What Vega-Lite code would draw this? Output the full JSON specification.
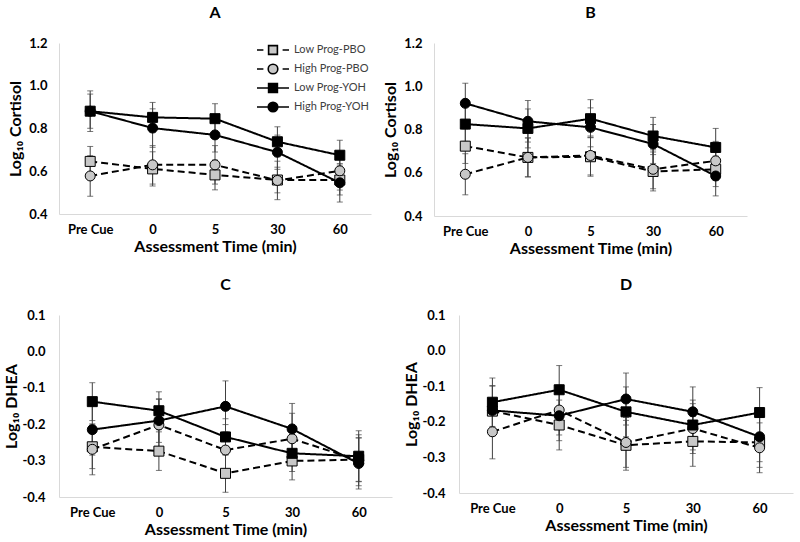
{
  "$schema": "https://vega.github.io/schema/vega-lite/v6.json",
  "background": "white",
  "padding": {"left": 3, "top": 5, "right": 5, "bottom": 5},
  "config": {
    "view": {"stroke": null},
    "font": "Lato",
    "axis": {
      "domainColor": "#d9d9d9", "domainWidth": 1, "ticks": false, "grid": false,
      "labelFont": "Lato", "labelFontWeight": "bold", "labelFontSize": 13, "labelColor": "#000",
      "titleFont": "Lato", "titleFontSize": 16, "titleFontWeight": "bold", "titleColor": "#000"
    },
    "axisX": {"labelAngle": 0, "labelPadding": 9, "titlePadding": 2},
    "axisY": {"labelPadding": 12, "titlePadding": 5},
    "title": {"font": "Lato", "fontSize": 16, "fontWeight": "bold", "color": "#000", "anchor": "middle", "frame": "group", "offset": 16}
  },
  "data": {"values": [
    {"panel":"A","group":"Low Prog-PBO","time":"Pre Cue","mean":0.646,"err":0.07},
    {"panel":"A","group":"Low Prog-PBO","time":"0","mean":0.611,"err":0.08},
    {"panel":"A","group":"Low Prog-PBO","time":"5","mean":0.583,"err":0.07},
    {"panel":"A","group":"Low Prog-PBO","time":"30","mean":0.559,"err":0.06},
    {"panel":"A","group":"Low Prog-PBO","time":"60","mean":0.559,"err":0.07},
    {"panel":"A","group":"High Prog-PBO","time":"Pre Cue","mean":0.578,"err":0.095},
    {"panel":"A","group":"High Prog-PBO","time":"0","mean":0.630,"err":0.09},
    {"panel":"A","group":"High Prog-PBO","time":"5","mean":0.630,"err":0.09},
    {"panel":"A","group":"High Prog-PBO","time":"30","mean":0.557,"err":0.09},
    {"panel":"A","group":"High Prog-PBO","time":"60","mean":0.602,"err":0.09},
    {"panel":"A","group":"Low Prog-YOH","time":"Pre Cue","mean":0.881,"err":0.095},
    {"panel":"A","group":"Low Prog-YOH","time":"0","mean":0.852,"err":0.07},
    {"panel":"A","group":"Low Prog-YOH","time":"5","mean":0.846,"err":0.07},
    {"panel":"A","group":"Low Prog-YOH","time":"30","mean":0.738,"err":0.07},
    {"panel":"A","group":"Low Prog-YOH","time":"60","mean":0.675,"err":0.07},
    {"panel":"A","group":"High Prog-YOH","time":"Pre Cue","mean":0.881,"err":0.08},
    {"panel":"A","group":"High Prog-YOH","time":"0","mean":0.802,"err":0.09},
    {"panel":"A","group":"High Prog-YOH","time":"5","mean":0.770,"err":0.08},
    {"panel":"A","group":"High Prog-YOH","time":"30","mean":0.689,"err":0.08},
    {"panel":"A","group":"High Prog-YOH","time":"60","mean":0.546,"err":0.09},

    {"panel":"B","group":"Low Prog-PBO","time":"Pre Cue","mean":0.723,"err":0.08},
    {"panel":"B","group":"Low Prog-PBO","time":"0","mean":0.671,"err":0.09},
    {"panel":"B","group":"Low Prog-PBO","time":"5","mean":0.674,"err":0.09},
    {"panel":"B","group":"Low Prog-PBO","time":"30","mean":0.606,"err":0.09},
    {"panel":"B","group":"Low Prog-PBO","time":"60","mean":0.616,"err":0.08},
    {"panel":"B","group":"High Prog-PBO","time":"Pre Cue","mean":0.593,"err":0.095},
    {"panel":"B","group":"High Prog-PBO","time":"0","mean":0.671,"err":0.09},
    {"panel":"B","group":"High Prog-PBO","time":"5","mean":0.680,"err":0.09},
    {"panel":"B","group":"High Prog-PBO","time":"30","mean":0.616,"err":0.09},
    {"panel":"B","group":"High Prog-PBO","time":"60","mean":0.655,"err":0.09},
    {"panel":"B","group":"Low Prog-YOH","time":"Pre Cue","mean":0.825,"err":0.08},
    {"panel":"B","group":"Low Prog-YOH","time":"0","mean":0.805,"err":0.09},
    {"panel":"B","group":"Low Prog-YOH","time":"5","mean":0.850,"err":0.088},
    {"panel":"B","group":"Low Prog-YOH","time":"30","mean":0.770,"err":0.086},
    {"panel":"B","group":"Low Prog-YOH","time":"60","mean":0.717,"err":0.088},
    {"panel":"B","group":"High Prog-YOH","time":"Pre Cue","mean":0.921,"err":0.093},
    {"panel":"B","group":"High Prog-YOH","time":"0","mean":0.838,"err":0.096},
    {"panel":"B","group":"High Prog-YOH","time":"5","mean":0.810,"err":0.09},
    {"panel":"B","group":"High Prog-YOH","time":"30","mean":0.733,"err":0.09},
    {"panel":"B","group":"High Prog-YOH","time":"60","mean":0.585,"err":0.092},

    {"panel":"C","group":"Low Prog-PBO","time":"Pre Cue","mean":-0.262,"err":0.06},
    {"panel":"C","group":"Low Prog-PBO","time":"0","mean":-0.274,"err":0.053},
    {"panel":"C","group":"Low Prog-PBO","time":"5","mean":-0.335,"err":0.052},
    {"panel":"C","group":"Low Prog-PBO","time":"30","mean":-0.301,"err":0.052},
    {"panel":"C","group":"Low Prog-PBO","time":"60","mean":-0.297,"err":0.06},
    {"panel":"C","group":"High Prog-PBO","time":"Pre Cue","mean":-0.269,"err":0.07},
    {"panel":"C","group":"High Prog-PBO","time":"0","mean":-0.202,"err":0.07},
    {"panel":"C","group":"High Prog-PBO","time":"5","mean":-0.271,"err":0.07},
    {"panel":"C","group":"High Prog-PBO","time":"30","mean":-0.240,"err":0.07},
    {"panel":"C","group":"High Prog-PBO","time":"60","mean":-0.299,"err":0.07},
    {"panel":"C","group":"Low Prog-YOH","time":"Pre Cue","mean":-0.138,"err":0.052},
    {"panel":"C","group":"Low Prog-YOH","time":"0","mean":-0.163,"err":0.052},
    {"panel":"C","group":"Low Prog-YOH","time":"5","mean":-0.235,"err":0.05},
    {"panel":"C","group":"Low Prog-YOH","time":"30","mean":-0.280,"err":0.05},
    {"panel":"C","group":"Low Prog-YOH","time":"60","mean":-0.288,"err":0.07},
    {"panel":"C","group":"High Prog-YOH","time":"Pre Cue","mean":-0.215,"err":0.07},
    {"panel":"C","group":"High Prog-YOH","time":"0","mean":-0.190,"err":0.06},
    {"panel":"C","group":"High Prog-YOH","time":"5","mean":-0.151,"err":0.07},
    {"panel":"C","group":"High Prog-YOH","time":"30","mean":-0.213,"err":0.07},
    {"panel":"C","group":"High Prog-YOH","time":"60","mean":-0.308,"err":0.07},

    {"panel":"D","group":"Low Prog-PBO","time":"Pre Cue","mean":-0.170,"err":0.07},
    {"panel":"D","group":"Low Prog-PBO","time":"0","mean":-0.209,"err":0.07},
    {"panel":"D","group":"Low Prog-PBO","time":"5","mean":-0.266,"err":0.07},
    {"panel":"D","group":"Low Prog-PBO","time":"30","mean":-0.255,"err":0.07},
    {"panel":"D","group":"Low Prog-PBO","time":"60","mean":-0.258,"err":0.07},
    {"panel":"D","group":"High Prog-PBO","time":"Pre Cue","mean":-0.228,"err":0.076},
    {"panel":"D","group":"High Prog-PBO","time":"0","mean":-0.167,"err":0.07},
    {"panel":"D","group":"High Prog-PBO","time":"5","mean":-0.258,"err":0.07},
    {"panel":"D","group":"High Prog-PBO","time":"30","mean":-0.219,"err":0.07},
    {"panel":"D","group":"High Prog-PBO","time":"60","mean":-0.273,"err":0.07},
    {"panel":"D","group":"Low Prog-YOH","time":"Pre Cue","mean":-0.145,"err":0.068},
    {"panel":"D","group":"Low Prog-YOH","time":"0","mean":-0.110,"err":0.068},
    {"panel":"D","group":"Low Prog-YOH","time":"5","mean":-0.172,"err":0.07},
    {"panel":"D","group":"Low Prog-YOH","time":"30","mean":-0.209,"err":0.07},
    {"panel":"D","group":"Low Prog-YOH","time":"60","mean":-0.174,"err":0.07},
    {"panel":"D","group":"High Prog-YOH","time":"Pre Cue","mean":-0.168,"err":0.07},
    {"panel":"D","group":"High Prog-YOH","time":"0","mean":-0.183,"err":0.07},
    {"panel":"D","group":"High Prog-YOH","time":"5","mean":-0.136,"err":0.073},
    {"panel":"D","group":"High Prog-YOH","time":"30","mean":-0.172,"err":0.07},
    {"panel":"D","group":"High Prog-YOH","time":"60","mean":-0.242,"err":0.07}
  ]},
  "vconcat": [
    {
      "hconcat": [
        {
          "width": 312, "height": 171,
          "title": "A",
          "transform": [{"filter": "datum.panel == 'A'"}],
          "encoding": {
            "x": {"field": "time", "type": "ordinal", "sort": ["Pre Cue","0","5","30","60"], "scale": {"type": "point", "padding": 0.5}, "title": "Assessment Time (min)"},
            "y": {"field": "mean", "type": "quantitative", "scale": {"domain": [0.4, 1.2], "nice": false}, "title": "Log₁₀ Cortisol",
                  "axis": {"values": [0.4, 0.6, 0.8, 1.0, 1.2], "labelExpr": "replace(format(datum.value, '.1f'), '−', '-')"}}
          },
          "resolve": {"scale": {"shape": "independent", "fill": "independent"}},
          "layer": [
            {"mark": {"type": "errorbar", "color": "#404040", "ticks": {"size": 6, "color": "#404040"}, "rule": {"strokeWidth": 1}},
             "encoding": {"yError": {"field": "err"}, "detail": {"field": "group"}}},
            {"mark": {"type": "line", "color": "black", "strokeWidth": 2},
             "encoding": {"detail": {"field": "group"}, "strokeDash": {"field": "group", "type": "nominal", "scale": {"domain": ["Low Prog-PBO","High Prog-PBO","Low Prog-YOH","High Prog-YOH"], "range": [[7,4],[7,4],[1,0],[1,0]]}, "legend": null}}},
            {"mark": {"type": "point", "filled": true, "size": 100, "stroke": "black", "strokeWidth": 1, "opacity": 1},
             "encoding": {
               "shape": {"field": "group", "type": "nominal", "scale": {"domain": ["Low Prog-PBO","High Prog-PBO","Low Prog-YOH","High Prog-YOH"], "range": ["square","circle","square","circle"]}, "legend": null},
               "fill": {"field": "group", "type": "nominal", "scale": {"domain": ["Low Prog-PBO","High Prog-PBO","Low Prog-YOH","High Prog-YOH"], "range": ["#c8c8c8","#c8c8c8","#000000","#000000"]}, "legend": null}}},
            {"transform": [{"filter": "false"}],
             "mark": {"type": "point", "filled": true, "size": 256, "stroke": "black", "strokeWidth": 1.6, "opacity": 1},
             "encoding": {
               "shape": {"field": "group", "type": "nominal",
                 "scale": {"domain": ["Low Prog-PBO","High Prog-PBO","Low Prog-YOH","High Prog-YOH"],
                   "range": [
                     "M-2,0H-1.2M-0.55,-0.55H0.55V0.55H-0.55ZM1.2,0H2",
                     "M-2,0H-1.2M-0.6,0A0.6,0.6,0,1,0,0.6,0A0.6,0.6,0,1,0,-0.6,0ZM1.2,0H2",
                     "M-2,0H-0.55M-0.55,-0.55H0.55V0.55H-0.55ZM0.55,0H2",
                     "M-2,0H-0.6M-0.6,0A0.6,0.6,0,1,0,0.6,0A0.6,0.6,0,1,0,-0.6,0ZM0.6,0H2"]},
                 "legend": {"title": null, "orient": "none", "legendX": 205, "legendY": -2, "symbolSize": 256, "symbolOpacity": 1, "symbolStrokeWidth": 1.6, "labelOffset": 12, "labelFont": "Lato", "labelFontSize": 11, "labelColor": "#404040", "rowPadding": 2,
                   "encode": {"symbols": {"update": {"stroke": {"value": "black"}, "strokeWidth": {"value": 1.6}}}}}},
               "fill": {"field": "group", "type": "nominal",
                 "scale": {"domain": ["Low Prog-PBO","High Prog-PBO","Low Prog-YOH","High Prog-YOH"], "range": ["#c8c8c8","#c8c8c8","#000000","#000000"]},
                 "legend": {"title": null, "orient": "none", "legendX": 205, "legendY": -2, "symbolSize": 256, "symbolOpacity": 1, "symbolStrokeWidth": 1.6, "labelOffset": 12, "labelFont": "Lato", "labelFontSize": 11, "labelColor": "#404040", "rowPadding": 2,
                   "encode": {"symbols": {"update": {"stroke": {"value": "black"}, "strokeWidth": {"value": 1.6}}}}}}}}
          ]
        },
        {
          "width": 313, "height": 173,
          "title": "B",
          "transform": [{"filter": "datum.panel == 'B'"}],
          "encoding": {
            "x": {"field": "time", "type": "ordinal", "sort": ["Pre Cue","0","5","30","60"], "scale": {"type": "point", "padding": 0.5}, "title": "Assessment Time (min)"},
            "y": {"field": "mean", "type": "quantitative", "scale": {"domain": [0.4, 1.2], "nice": false}, "title": "Log₁₀ Cortisol",
                  "axis": {"values": [0.4, 0.6, 0.8, 1.0, 1.2], "labelExpr": "replace(format(datum.value, '.1f'), '−', '-')"}}
          },
          "layer": [
            {"mark": {"type": "errorbar", "color": "#404040", "ticks": {"size": 6, "color": "#404040"}, "rule": {"strokeWidth": 1}},
             "encoding": {"yError": {"field": "err"}, "detail": {"field": "group"}}},
            {"mark": {"type": "line", "color": "black", "strokeWidth": 2},
             "encoding": {"detail": {"field": "group"}, "strokeDash": {"field": "group", "type": "nominal", "scale": {"domain": ["Low Prog-PBO","High Prog-PBO","Low Prog-YOH","High Prog-YOH"], "range": [[7,4],[7,4],[1,0],[1,0]]}, "legend": null}}},
            {"mark": {"type": "point", "filled": true, "size": 100, "stroke": "black", "strokeWidth": 1, "opacity": 1},
             "encoding": {
               "shape": {"field": "group", "type": "nominal", "scale": {"domain": ["Low Prog-PBO","High Prog-PBO","Low Prog-YOH","High Prog-YOH"], "range": ["square","circle","square","circle"]}, "legend": null},
               "fill": {"field": "group", "type": "nominal", "scale": {"domain": ["Low Prog-PBO","High Prog-PBO","Low Prog-YOH","High Prog-YOH"], "range": ["#c8c8c8","#c8c8c8","#000000","#000000"]}, "legend": null}}}
          ]
        }
      ],
      "spacing": 11
    },
    {
      "hconcat": [
        {
          "width": 333, "height": 182,
          "title": "C",
          "transform": [{"filter": "datum.panel == 'C'"}],
          "encoding": {
            "x": {"field": "time", "type": "ordinal", "sort": ["Pre Cue","0","5","30","60"], "scale": {"type": "point", "padding": 0.5}, "title": "Assessment Time (min)"},
            "y": {"field": "mean", "type": "quantitative", "scale": {"domain": [-0.4, 0.1], "nice": false}, "title": "Log₁₀ DHEA",
                  "axis": {"values": [-0.4, -0.3, -0.2, -0.1, 0.0, 0.1], "labelExpr": "replace(format(datum.value, '.1f'), '−', '-')", "titlePadding": 2, "labelPadding": 14}}
          },
          "layer": [
            {"mark": {"type": "errorbar", "color": "#404040", "ticks": {"size": 6, "color": "#404040"}, "rule": {"strokeWidth": 1}},
             "encoding": {"yError": {"field": "err"}, "detail": {"field": "group"}}},
            {"mark": {"type": "line", "color": "black", "strokeWidth": 2},
             "encoding": {"detail": {"field": "group"}, "strokeDash": {"field": "group", "type": "nominal", "scale": {"domain": ["Low Prog-PBO","High Prog-PBO","Low Prog-YOH","High Prog-YOH"], "range": [[7,4],[7,4],[1,0],[1,0]]}, "legend": null}}},
            {"mark": {"type": "point", "filled": true, "size": 100, "stroke": "black", "strokeWidth": 1, "opacity": 1},
             "encoding": {
               "shape": {"field": "group", "type": "nominal", "scale": {"domain": ["Low Prog-PBO","High Prog-PBO","Low Prog-YOH","High Prog-YOH"], "range": ["square","circle","square","circle"]}, "legend": null},
               "fill": {"field": "group", "type": "nominal", "scale": {"domain": ["Low Prog-PBO","High Prog-PBO","Low Prog-YOH","High Prog-YOH"], "range": ["#c8c8c8","#c8c8c8","#000000","#000000"]}, "legend": null}}}
          ]
        },
        {
          "width": 334, "height": 178,
          "title": "D",
          "transform": [{"filter": "datum.panel == 'D'"}],
          "encoding": {
            "x": {"field": "time", "type": "ordinal", "sort": ["Pre Cue","0","5","30","60"], "scale": {"type": "point", "padding": 0.5}, "title": "Assessment Time (min)"},
            "y": {"field": "mean", "type": "quantitative", "scale": {"domain": [-0.4, 0.1], "nice": false}, "title": "Log₁₀ DHEA",
                  "axis": {"values": [-0.4, -0.3, -0.2, -0.1, 0.0, 0.1], "labelExpr": "replace(format(datum.value, '.1f'), '−', '-')", "titlePadding": 2, "labelPadding": 14}}
          },
          "layer": [
            {"mark": {"type": "errorbar", "color": "#404040", "ticks": {"size": 6, "color": "#404040"}, "rule": {"strokeWidth": 1}},
             "encoding": {"yError": {"field": "err"}, "detail": {"field": "group"}}},
            {"mark": {"type": "line", "color": "black", "strokeWidth": 2},
             "encoding": {"detail": {"field": "group"}, "strokeDash": {"field": "group", "type": "nominal", "scale": {"domain": ["Low Prog-PBO","High Prog-PBO","Low Prog-YOH","High Prog-YOH"], "range": [[7,4],[7,4],[1,0],[1,0]]}, "legend": null}}},
            {"mark": {"type": "point", "filled": true, "size": 100, "stroke": "black", "strokeWidth": 1, "opacity": 1},
             "encoding": {
               "shape": {"field": "group", "type": "nominal", "scale": {"domain": ["Low Prog-PBO","High Prog-PBO","Low Prog-YOH","High Prog-YOH"], "range": ["square","circle","square","circle"]}, "legend": null},
               "fill": {"field": "group", "type": "nominal", "scale": {"domain": ["Low Prog-PBO","High Prog-PBO","Low Prog-YOH","High Prog-YOH"], "range": ["#c8c8c8","#c8c8c8","#000000","#000000"]}, "legend": null}}}
          ]
        }
      ],
      "spacing": 11
    }
  ],
  "spacing": 21
}
